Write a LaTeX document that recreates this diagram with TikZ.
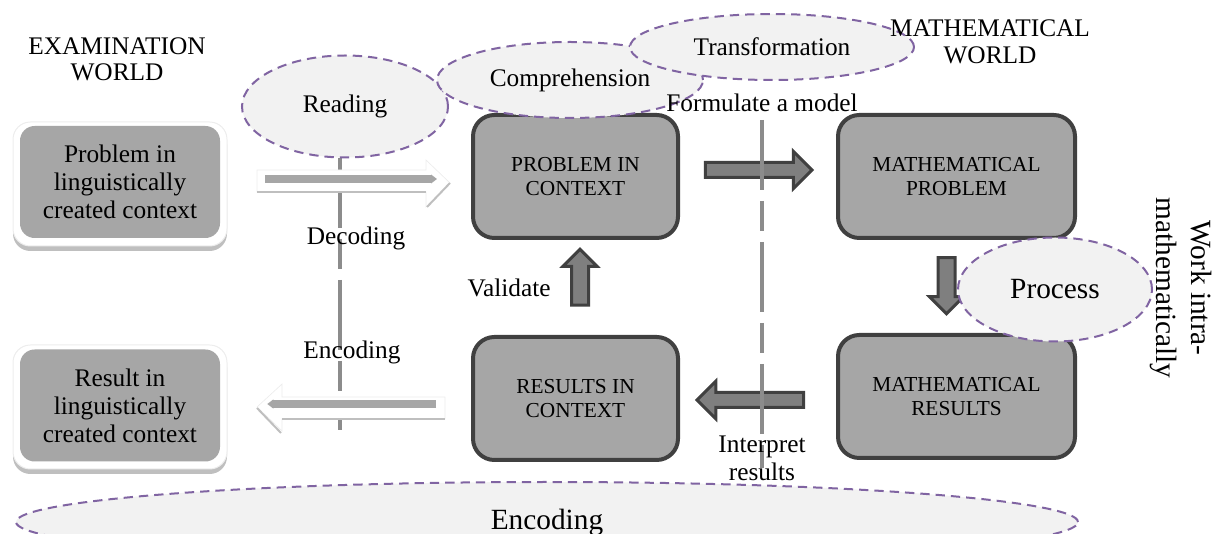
\documentclass[tikz,border=0pt]{standalone}
\usepackage{fontspec}
\setmainfont{Liberation Serif}
\usepackage{xcolor}
\usetikzlibrary{shapes.geometric,shapes.arrows,arrows.meta,calc}

\definecolor{boxgray}{HTML}{A6A6A6}
\definecolor{boxline}{HTML}{404040}
\definecolor{arrowfill}{HTML}{7F7F7F}
\definecolor{ellfill}{HTML}{F2F2F2}
\definecolor{elldash}{HTML}{8064A2}
\definecolor{divgray}{HTML}{8C8C8C}
\definecolor{shadegray}{HTML}{BFBFBF}
\definecolor{faintgray}{HTML}{EDEDED}

\begin{document}
\begin{tikzpicture}[x=0.75pt,y=0.75pt,yscale=-1,xscale=1,
  lbl/.style={inner sep=0.75pt, align=center, font=\fontsize{19}{21}\selectfont},
  mainbox/.style={draw=boxline, line width=3pt, fill=boxgray, rounded corners=16pt,
    minimum width=153.75pt, minimum height=92.25pt, inner sep=0pt, align=center,
    font=\fontsize{16}{18}\selectfont},
  mathbox/.style={mainbox, minimum width=177.75pt},
  leftbox/.style={fill=boxgray, rounded corners=11pt, minimum width=150pt,
    minimum height=84pt, inner sep=0pt, align=center, font=\fontsize{19}{21}\selectfont},
  leftframe/.style={fill=white, draw=faintgray, line width=0.75pt, rounded corners=13pt,
    minimum width=160.5pt, minimum height=93pt},
  leftshade/.style={fill=shadegray, rounded corners=13pt, minimum width=160.5pt,
    minimum height=93pt},
  harrow/.style={single arrow, draw=boxline, fill=arrowfill, line width=2.25pt,
    minimum height=80pt, single arrow head extend=8.5pt, inner xsep=0pt, inner ysep=4.5pt},
  varrow/.style={single arrow, draw=boxline, fill=arrowfill, line width=2.25pt,
    minimum height=42pt, single arrow head extend=6.4pt, inner xsep=0pt, inner ysep=5.25pt},
  litframe/.style={draw=faintgray, fill=white, line width=0.5pt},
  litshade/.style={draw=shadegray, line width=1.5pt},
  litbar/.style={draw=boxgray, line width=6pt, -{Triangle[length=4.5pt,width=6.5pt]}},
  divider/.style={draw=divgray, line width=2.5pt,
    dash pattern=on 52.5pt off 8.25pt on 22.5pt off 8.25pt},
  ellnode/.style={ellipse, draw=elldash, fill=ellfill, line width=1.5pt,
    dash pattern=on 7pt off 4.5pt, inner sep=0pt, font=\fontsize{19}{21}\selectfont}
]

\useasboundingbox (0,0) rectangle (1215,534);

\node[leftshade] at (120,189) {};
\node[leftframe] at (120,184) {};
\node[leftbox] (plc) at (120,182) {Problem in\\linguistically\\created context};

\node[leftshade] at (120,412) {};
\node[leftframe] at (120,407) {};
\node[leftbox] (rlc) at (120,405.5) {Result in\\linguistically\\created context};

\node[mainbox] (pic) at (575.5,176.5) {PROBLEM IN\\CONTEXT};
\node[mathbox] (mp) at (956.5,176.5) {MATHEMATICAL\\PROBLEM};
\node[mainbox] (ric) at (575.5,398.5) {RESULTS IN\\CONTEXT};
\node[mathbox] (mr) at (956.5,396.5) {MATHEMATICAL\\RESULTS};

\draw[divider] (340,158) -- (340,430);

\draw[litframe] (257,170) -- (426,170) -- (426,160) -- (450,183) -- (426,207) -- (426,192) -- (257,192) -- cycle;
\draw[litshade] (257,192) -- (426,192);
\draw[litshade] (427,207) -- (450,183);
\draw[litbar] ($(plc.east)+(45,-3)$) -- ($(plc.east -| pic.west)+(-34,-3)$);

\draw[litframe] (445,397) -- (282,397) -- (282,384) -- (257,407) -- (282,431) -- (282,419) -- (445,419) -- cycle;
\draw[litshade] (282,419) -- (445,419);
\draw[litshade] (257,408) -- (281,433);
\draw[litbar] ($(ric.west)+(-35,5.5)$) -- ($(rlc.east)+(47,-1.5)$);

\node[harrow] (model) at ($(pic.east)!0.5!(mp.west)+(-3,-6.5)$) {};
\node[varrow, rotate=-90] (work) at ($(mp.south)!0.5!(mr.north)+(-10,-5)$) {};
\node[harrow, rotate=180] (interp) at ($(mr.west)!0.5!(ric.east)+(-4,2.5)$) {};
\node[varrow, rotate=90] (valid) at ($(ric.north)!0.5!(pic.south)+(4.5,-6)$) {};

\draw[divider] (762,120) -- (762,468);

\node[ellnode, minimum width=154.5pt, minimum height=76.5pt] (reading) at (345,106.5) {Reading};
\node[ellnode, minimum width=199.5pt, minimum height=57pt] (compre) at (570,80) {Comprehension};
\node[ellnode, minimum width=213pt, minimum height=49.5pt] (transf) at (772,47) {Transformation};
\node[ellnode, minimum width=145.5pt, minimum height=78pt, font=\fontsize{22}{24}\selectfont] (process) at (1055,289.5) {Process};
\node[ellnode, minimum width=796.5pt, minimum height=60pt, font=\fontsize{22}{24}\selectfont] (encodall) at (547,522) {Encoding};

\node[lbl, font=\fontsize{19}{19.5}\selectfont] (examw) at (117,59) {EXAMINATION\\WORLD};
\node[lbl, font=\fontsize{19}{20}\selectfont] (mathw) at (990,41.5) {MATHEMATICAL\\WORLD};
\node[lbl] (decod) at (356,238) {Decoding};
\node[lbl] (encod) at (352,352) {Encoding};
\node[lbl] (validt) at (509,288) {Validate};
\node[lbl] (formul) at (762,103) {Formulate a model};
\node[lbl] (interpt) at (762,458) {Interpret\\results};
\node[lbl, rotate=-90, font=\fontsize{22}{26}\selectfont] (workt) at (1181,288) {Work intra-\\mathematically};

\end{tikzpicture}
\end{document}
